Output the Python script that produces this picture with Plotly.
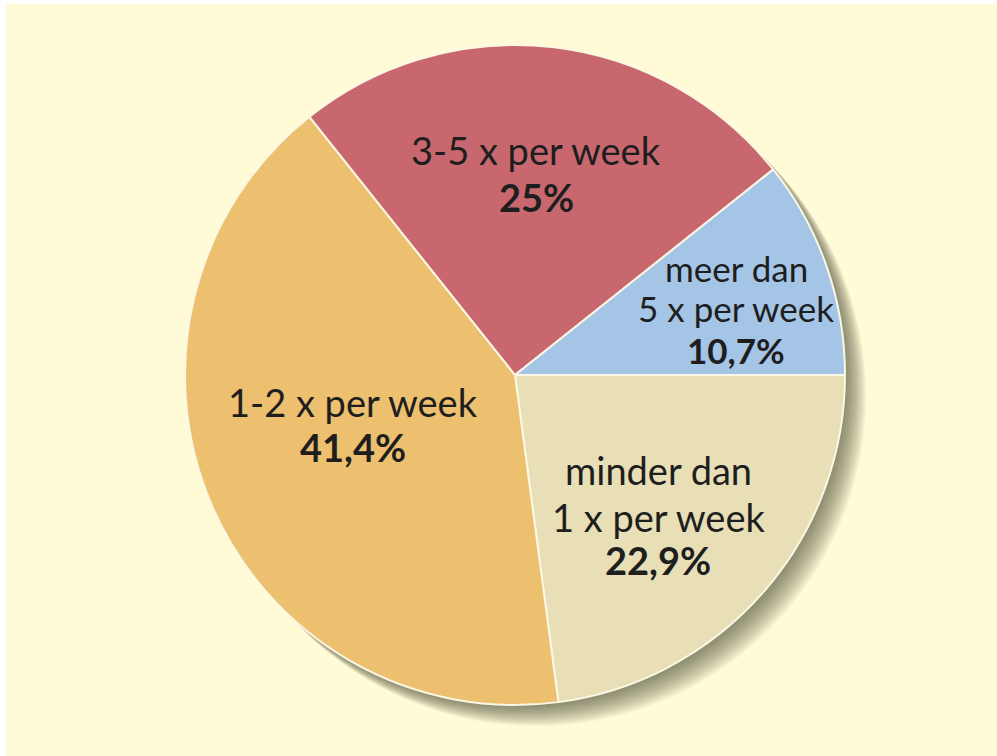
import plotly.graph_objects as go

categories = ["minder dan 1 x per week", "1-2 x per week", "3-5 x per week", "meer dan 5 x per week"]
label_lines = [["minder dan", "1 x per week"], ["1-2 x per week"], ["3-5 x per week"], ["meer dan", "5 x per week"]]
values = [22.9, 41.4, 25.0, 10.7]
value_labels = ["22,9%", "41,4%", "25%", "10,7%"]
colors = ["#E8DFB7", "#EDC070", "#C8686E", "#A5C5E7"]

W, H = 997, 756
cx, cy, r = 515, 375, 330

fig = go.Figure()

fig.add_trace(go.Pie(
    labels=categories,
    values=values,
    sort=False,
    direction="clockwise",
    rotation=90,
    marker=dict(colors=colors, line=dict(color="#FBF7E4", width=2)),
    textinfo="none",
    hoverinfo="label+percent",
    showlegend=False,
    domain=dict(x=[(cx - r) / W, (cx + r) / W], y=[(H - cy - r) / H, (H - cy + r) / H]),
))

shapes = [dict(type="rect", xref="paper", yref="paper", x0=6 / W, x1=1, y0=0, y1=1 - 4 / H,
               fillcolor="#FFFBD7", line=dict(width=0), layer="below")]
# soft drop shadow towards the lower right
for off in range(30, 0, -2):
    d = off * 0.7
    shapes.append(dict(type="circle", xref="paper", yref="paper",
                       x0=(cx - r + d) / W, x1=(cx + r + d) / W,
                       y0=(H - cy - r - d) / H, y1=(H - cy + r - d) / H,
                       fillcolor="rgba(60,60,45,0.05)", line=dict(width=0), layer="below"))

# (x centre, [y centres of each line], font size)
pos = [
    (658, [470, 517, 560], 38),
    (353, [402, 447], 38),
    (536, [150, 197], 38),
    (736, [268, 308, 350], 35),
]
annotations = []
for i in range(4):
    x, ys, fs = pos[i]
    lines = label_lines[i] + ["<b>" + value_labels[i] + "</b>"]
    for txt, y in zip(lines, ys):
        annotations.append(dict(
            x=x / W, y=1 - y / H, xref="paper", yref="paper",
            text=txt, showarrow=False, xanchor="center", yanchor="middle",
            font=dict(family="Lato, Open Sans, sans-serif", size=fs, color="#1E1E1E"),
        ))

fig.update_layout(
    width=W, height=H,
    margin=dict(l=0, r=0, t=0, b=0),
    paper_bgcolor="#FFFFFF",
    shapes=shapes,
    annotations=annotations,
)

fig.write_html("out.html", config={"displayModeBar": False},
               post_script="document.body.style.margin='0';")
